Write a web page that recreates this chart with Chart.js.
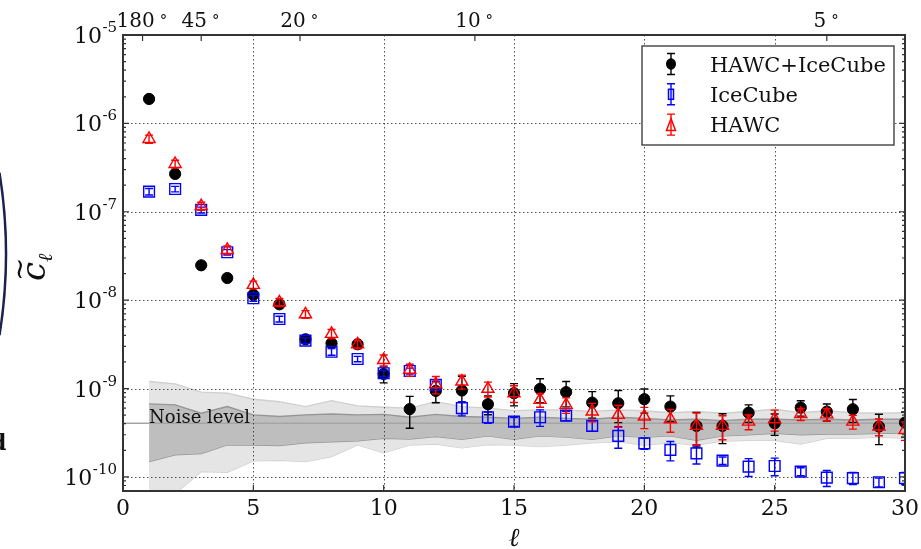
<!DOCTYPE html>
<html>
<head>
<meta charset="utf-8">
<script src="https://cdn.jsdelivr.net/npm/chart.js@4.4.1/dist/chart.umd.min.js"></script>
<style>
  body { margin: 0; background: #fff; }
  #wrap { width: 921px; height: 549px; }
</style>
</head>
<body>
<div id="wrap"><canvas id="cl" width="921" height="549"></canvas></div>
<script>
// multipole values
const ell = [1, 2, 3, 4, 5, 6, 7, 8, 9, 10, 11, 12, 13, 14, 15, 16, 17, 18, 19, 20, 21, 22, 23, 24, 25, 26, 27, 28, 29, 30];

// HAWC+IceCube (black dots)
const hawcIce = [1.89e-6, 2.68e-7, 2.48e-8, 1.78e-8, 1.15e-8, 8.97e-9, 3.61e-9, 3.25e-9, 3.17e-9, 1.46e-9,
                 5.86e-10, 9.4e-10, 9.5e-10, 6.65e-10, 8.86e-10, 9.9e-10, 9.1e-10, 6.93e-10, 6.82e-10, 7.57e-10,
                 6.25e-10, 3.78e-10, 3.78e-10, 5.33e-10, 4.05e-10, 6.08e-10, 5.48e-10, 5.83e-10, 3.72e-10, 4.12e-10];
const hawcIceErr = [3e-10, 3e-10, 3e-10, 3e-10, 3e-10, 3e-10, 3e-10, 3e-10, 3e-10, 3e-10,
                    2.3e-10, 2.5e-10, 4.3e-10, 1.6e-10, 2.5e-10, 3e-10, 2.9e-10, 2.3e-10, 2.7e-10, 2.3e-10,
                    2e-10, 1.6e-10, 1.4e-10, 1.2e-10, 1.1e-10, 1.2e-10, 1.2e-10, 1.7e-10, 1.4e-10, 1.3e-10];

// IceCube (blue squares)
const iceCube = [1.69e-7, 1.81e-7, 1.05e-7, 3.48e-8, 1.05e-8, 6.12e-9, 3.48e-9, 2.61e-9, 2.16e-9, 1.49e-9,
                 1.58e-9, 1.1e-9, 6.0e-10, 4.73e-10, 4.22e-10, 4.73e-10, 4.93e-10, 3.78e-10, 2.91e-10, 2.4e-10,
                 2.02e-10, 1.85e-10, 1.53e-10, 1.31e-10, 1.33e-10, 1.15e-10, 9.8e-11, 9.7e-11, 8.7e-11, 9.7e-11];
const iceCubeErr = [1.4e-8, 1.3e-8, 8e-9, 2.5e-9, 8e-10, 4.5e-10, 2.5e-10, 2.3e-10, 1.5e-10, 1.2e-10,
                    1.2e-10, 1.1e-10, 1.1e-10, 7e-11, 5e-11, 1e-10, 6e-11, 5e-11, 8e-11, 3.5e-11,
                    5e-11, 4.5e-11, 1.5e-11, 3e-11, 3e-11, 1.2e-11, 2e-11, 1.5e-11, 1e-11, 1.5e-11];

// HAWC (red triangles)
const hawc = [6.67e-7, 3.47e-7, 1.16e-7, 3.7e-8, 1.49e-8, 9.46e-9, 6.92e-9, 4.15e-9, 3.16e-9, 2.1e-9,
              1.63e-9, 1.12e-9, 1.2e-9, 9.93e-10, 8.86e-10, 7.44e-10, 6.54e-10, 5.5e-10, 5.04e-10, 4.82e-10,
              4.5e-10, 3.78e-10, 3.78e-10, 4.22e-10, 4.5e-10, 5.15e-10, 5.1e-10, 4.22e-10, 3.72e-10, 3.39e-10];
const hawcErr = [7e-8, 3.5e-8, 1.2e-8, 4e-9, 1.5e-9, 1e-9, 7e-10, 5e-10, 3.5e-10, 3e-10,
                 2.5e-10, 2.5e-10, 2.2e-10, 1.9e-10, 1.9e-10, 1.3e-10, 1.3e-10, 1.3e-10, 1.4e-10, 1.3e-10,
                 1.3e-10, 1.5e-10, 1.15e-10, 8e-11, 1.2e-10, 8e-11, 8e-11, 7.5e-11, 8e-11, 8e-11];

// noise bands (1 and 2 sigma)
const noiseUp2 = [1.2e-9, 1.13e-9, 9.1e-10, 8.86e-10, 7.57e-10, 7.1e-10, 6.25e-10, 7.3e-10, 6.37e-10, 6.15e-10,
                  6.0e-10, 7.1e-10, 6.25e-10, 6.0e-10, 5.62e-10, 5.72e-10, 5.72e-10, 5.5e-10, 5.72e-10, 5.6e-10,
                  5.33e-10, 5.5e-10, 5.25e-10, 5.5e-10, 5.83e-10, 5.33e-10, 5.6e-10, 5.33e-10, 5.25e-10, 5.33e-10];
const noiseUp1 = [6.7e-10, 6.54e-10, 5.25e-10, 6.25e-10, 5.04e-10, 4.82e-10, 5.04e-10, 5.15e-10, 5.04e-10, 5.1e-10,
                  4.73e-10, 5.1e-10, 4.82e-10, 4.73e-10, 4.6e-10, 4.73e-10, 4.6e-10, 4.5e-10, 4.73e-10, 4.6e-10,
                  4.4e-10, 4.5e-10, 4.33e-10, 4.5e-10, 4.5e-10, 4.4e-10, 4.5e-10, 4.4e-10, 4.5e-10, 4.5e-10];
const noiseLo1 = [1.49e-10, 1.78e-10, 1.84e-10, 2.3e-10, 2.3e-10, 2.27e-10, 2.44e-10, 2.5e-10, 2.56e-10, 2.73e-10,
                  2.69e-10, 2.86e-10, 2.66e-10, 2.91e-10, 2.66e-10, 2.91e-10, 2.82e-10, 2.66e-10, 2.91e-10, 2.82e-10,
                  2.91e-10, 2.6e-10, 2.91e-10, 3.0e-10, 3.12e-10, 3.0e-10, 3.05e-10, 3.05e-10, 3.12e-10, 3.12e-10];
const noiseLo2 = [3e-11, 6.5e-11, 1.15e-10, 1.13e-10, 1.52e-10, 1.54e-10, 1.49e-10, 1.7e-10, 2.3e-10, 1.88e-10,
                  2.3e-10, 2.36e-10, 2.13e-10, 2.33e-10, 2.3e-10, 2.2e-10, 2.3e-10, 2.43e-10, 2.49e-10, 2.3e-10,
                  2.43e-10, 2.3e-10, 2.55e-10, 2.6e-10, 2.6e-10, 2.36e-10, 2.73e-10, 2.73e-10, 2.82e-10, 2.73e-10];
const noiseLevel = 4.05e-10;

// axes
const xTicks = [0, 5, 10, 15, 20, 25, 30];
const yDecades = [-10, -9, -8, -7, -6, -5];
const topTickEll = [0.75, 3, 6.79, 13.5, 27];
const topTickLabels = ['180', '45', '20', '10', '5'];
const yMin = 6.93e-11, yMax = 1e-5;

const serif = '"DejaVu Serif", "Liberation Serif", serif';
const gridColor = 'rgba(40,40,40,0.8)';
const frameColor = '#333';

function pts(vals, errs) {
    return vals.map((v, i) => ({ x: ell[i], y: v, err: errs ? errs[i] : 0 }));
}
function line(vals) {
    return vals.map((v, i) => ({ x: ell[i], y: v }));
}

// error bars, drawn just before the markers of each dataset
const errorBars = {
    id: 'errorBars',
    beforeDatasetDraw(chart, args) {
        const ds = chart.data.datasets[args.index];
        if (!ds.errColor) return;
        const { ctx, chartArea: a } = chart;
        const xs = chart.scales.x, ys = chart.scales.y;
        ctx.save();
        ctx.beginPath();
        ctx.rect(a.left, a.top, a.right - a.left, a.bottom - a.top);
        ctx.clip();
        ctx.strokeStyle = ds.errColor;
        ctx.lineWidth = 1.4;
        ds.data.forEach(p => {
            const px = xs.getPixelForValue(p.x);
            const top = ys.getPixelForValue(p.y + p.err);
            const bot = ys.getPixelForValue(Math.max(p.y - p.err, 1e-13));
            ctx.beginPath();
            ctx.moveTo(px, top); ctx.lineTo(px, bot);
            ctx.moveTo(px - 4, top); ctx.lineTo(px + 4, top);
            ctx.moveTo(px - 4, bot); ctx.lineTo(px + 4, bot);
            ctx.stroke();
        });
        ctx.restore();
    }
};

// grid, frame, ticks, labels and legend
const decorations = {
    id: 'decorations',
    afterDatasetsDraw(chart) {
        const { ctx, chartArea: a } = chart;
        const xs = chart.scales.x, ys = chart.scales.y;

        // dotted grid
        ctx.save();
        ctx.strokeStyle = gridColor;
        ctx.lineWidth = 1;
        ctx.setLineDash([1.5, 2.5]);
        xTicks.forEach(t => {
            if (t <= 0 || t >= 30) return;
            const px = Math.round(xs.getPixelForValue(t)) + 0.5;
            ctx.beginPath(); ctx.moveTo(px, a.top); ctx.lineTo(px, a.bottom); ctx.stroke();
        });
        yDecades.forEach(d => {
            const py = Math.round(ys.getPixelForValue(Math.pow(10, d))) + 0.5;
            if (py <= a.top + 1) return;
            ctx.beginPath(); ctx.moveTo(a.left, py); ctx.lineTo(a.right, py); ctx.stroke();
        });
        ctx.restore();

        // "Noise level" text
        ctx.save();
        ctx.fillStyle = '#111';
        ctx.font = '18px ' + serif;
        ctx.textAlign = 'left';
        ctx.textBaseline = 'alphabetic';
        ctx.fillText('Noise level', xs.getPixelForValue(1), ys.getPixelForValue(noiseLevel));
        ctx.restore();

        // ticks (inward)
        ctx.save();
        ctx.strokeStyle = frameColor;
        ctx.lineWidth = 1.2;
        ctx.beginPath();
        yDecades.forEach(d => {
            const py = ys.getPixelForValue(Math.pow(10, d));
            ctx.moveTo(a.left, py); ctx.lineTo(a.left + 6, py);
            ctx.moveTo(a.right, py); ctx.lineTo(a.right - 6, py);
        });
        for (let d = -11; d <= -6; d++) {
            for (let k = 2; k <= 9; k++) {
                const v = k * Math.pow(10, d);
                if (v < yMin || v > yMax) continue;
                const py = ys.getPixelForValue(v);
                ctx.moveTo(a.left, py); ctx.lineTo(a.left + 3, py);
                ctx.moveTo(a.right, py); ctx.lineTo(a.right - 3, py);
            }
        }
        xTicks.forEach(t => {
            const px = xs.getPixelForValue(t);
            ctx.moveTo(px, a.bottom); ctx.lineTo(px, a.bottom - 6);
        });
        topTickEll.forEach(t => {
            const px = xs.getPixelForValue(t);
            ctx.moveTo(px, a.top); ctx.lineTo(px, a.top + 6);
        });
        ctx.stroke();
        ctx.restore();

        // frame
        ctx.save();
        ctx.strokeStyle = frameColor;
        ctx.lineWidth = 2;
        ctx.strokeRect(a.left, a.top, a.right - a.left, a.bottom - a.top);
        ctx.restore();
    },
    afterDraw(chart) {
        const { ctx, chartArea: a } = chart;
        const xs = chart.scales.x, ys = chart.scales.y;
        ctx.save();
        ctx.fillStyle = '#111';

        // y tick labels 10^n
        ctx.textBaseline = 'alphabetic';
        yDecades.forEach(d => {
            const py = ys.getPixelForValue(Math.pow(10, d));
            const sup = String(d);
            ctx.font = '15px ' + serif;
            const sw = ctx.measureText(sup).width;
            ctx.textAlign = 'left';
            ctx.fillText(sup, 117 - sw, py - 3);
            ctx.font = '22px ' + serif;
            ctx.textAlign = 'right';
            ctx.fillText('10', 117 - sw - 0.5, py + 8);
        });

        // x tick labels
        ctx.font = '22px ' + serif;
        ctx.textAlign = 'center';
        xTicks.forEach(t => {
            ctx.fillText(String(t), xs.getPixelForValue(t), a.bottom + 24);
        });

        // top angle labels
        topTickEll.forEach((t, i) => {
            const px = xs.getPixelForValue(t) - 3;
            ctx.font = '20px ' + serif;
            const w = ctx.measureText(topTickLabels[i]).width;
            ctx.textAlign = 'left';
            ctx.fillText(topTickLabels[i], px - w / 2 - 4, 27);
            ctx.font = '15px ' + serif;
            ctx.fillText('\u00B0', px + w / 2 + 1, 25);
        });

        // x axis title
        ctx.font = 'italic 26px ' + serif;
        ctx.textAlign = 'center';
        ctx.fillText('\u2113', (a.left + a.right) / 2, 546);

        // y axis title (c tilde, subscript ell)
        ctx.save();
        ctx.translate(45, 281);
        ctx.rotate(-Math.PI / 2);
        ctx.textAlign = 'left';
        ctx.font = 'italic 34px ' + serif;
        ctx.fillText('c', 0, 0);
        ctx.font = '28px ' + serif;
        ctx.fillText('~', 0, -16);
        ctx.font = 'italic 20px ' + serif;
        ctx.fillText('\u2113', 19, 7);
        ctx.restore();

        // legend
        const lx = 642, ly = 46, lw = 252, lh = 99;
        ctx.fillStyle = '#fff';
        ctx.fillRect(lx, ly, lw, lh);
        ctx.strokeStyle = frameColor;
        ctx.lineWidth = 1.3;
        ctx.strokeRect(lx, ly, lw, lh);
        const rows = chart.data.datasets.filter(ds => ds.errColor);
        rows.sort((p, q) => p.legendRow - q.legendRow);
        rows.forEach((ds, i) => {
            const cy = 64 + i * 30.3;
            const mx = 671;
            ctx.strokeStyle = ds.errColor;
            ctx.lineWidth = 1.4;
            ctx.beginPath();
            ctx.moveTo(mx, cy - 10.5); ctx.lineTo(mx, cy + 10.5);
            ctx.moveTo(mx - 4, cy - 10.5); ctx.lineTo(mx + 4, cy - 10.5);
            ctx.moveTo(mx - 4, cy + 10.5); ctx.lineTo(mx + 4, cy + 10.5);
            ctx.stroke();
            ctx.strokeStyle = ds.borderColor;
            ctx.lineWidth = 1.5;
            if (ds.pointStyle === 'circle') {
                ctx.fillStyle = ds.backgroundColor;
                ctx.beginPath(); ctx.ellipse(mx, cy, 5, 5.8, 0, 0, Math.PI * 2); ctx.fill();
            } else if (ds.pointStyle === 'rect') {
                ctx.strokeRect(mx - 2.5, cy - 5, 5, 10);
            } else {
                ctx.beginPath();
                ctx.moveTo(mx, cy - 6); ctx.lineTo(mx + 4.5, cy + 6); ctx.lineTo(mx - 4.5, cy + 6); ctx.closePath();
                ctx.stroke();
            }
            ctx.fillStyle = '#111';
            ctx.font = '21px ' + serif;
            ctx.textAlign = 'left';
            ctx.fillText(ds.label, 710, cy + 7.5);
        });

        // fragments of the neighbouring figure at the left edge
        ctx.strokeStyle = '#1c2150';
        ctx.lineWidth = 2.5;
        ctx.beginPath();
        ctx.arc(-504, 254, 510, -0.16, 0.16);
        ctx.stroke();
        ctx.fillStyle = '#111';
        ctx.font = 'bold 22px ' + serif;
        ctx.textAlign = 'left';
        ctx.fillText('d', -9, 450);
        ctx.restore();
    }
};

const ctx = document.getElementById('cl').getContext('2d');
const chart = new Chart(ctx, {
    type: 'scatter',
    data: {
        datasets: [
            {
                label: 'HAWC',
                data: pts(hawc, hawcErr),
                pointStyle: 'triangle',
                pointRadius: 7,
                backgroundColor: 'rgba(255,255,255,0)',
                borderColor: 'rgb(255,0,0)',
                borderWidth: 1.4,
                errColor: 'rgb(255,0,0)',
                legendRow: 2,
                order: 1,
                clip: 0
            },
            {
                label: 'IceCube',
                data: pts(iceCube, iceCubeErr),
                pointStyle: 'rect',
                pointRadius: 7.6,
                backgroundColor: 'rgba(255,255,255,0)',
                borderColor: 'rgb(0,0,255)',
                borderWidth: 1.4,
                errColor: 'rgb(0,0,255)',
                legendRow: 1,
                order: 2,
                clip: 0
            },
            {
                label: 'HAWC+IceCube',
                data: pts(hawcIce, hawcIceErr),
                pointStyle: 'circle',
                pointRadius: 5.6,
                backgroundColor: '#000',
                borderColor: '#000',
                borderWidth: 1,
                errColor: '#000',
                legendRow: 0,
                order: 3,
                clip: 0
            },
            {
                type: 'line',
                label: 'noise',
                data: [{ x: 0, y: noiseLevel }, { x: 30, y: noiseLevel }],
                borderColor: 'rgb(165,165,165)',
                borderWidth: 1.6,
                pointRadius: 0,
                fill: false,
                order: 4
            },
            {
                type: 'line',
                label: 'up1',
                data: line(noiseUp1),
                borderColor: 'rgb(150,150,150)',
                backgroundColor: 'rgb(190,190,190)',
                borderWidth: 1.4,
                pointRadius: 0,
                tension: 0,
                fill: '+1',
                order: 5
            },
            {
                type: 'line',
                label: 'lo1',
                data: line(noiseLo1),
                borderColor: 'rgb(150,150,150)',
                borderWidth: 1.4,
                pointRadius: 0,
                tension: 0,
                fill: false,
                order: 5
            },
            {
                type: 'line',
                label: 'up2',
                data: line(noiseUp2),
                borderColor: 'rgb(208,208,208)',
                backgroundColor: 'rgb(229,229,229)',
                borderWidth: 1.4,
                pointRadius: 0,
                tension: 0,
                fill: '+1',
                order: 6
            },
            {
                type: 'line',
                label: 'lo2',
                data: line(noiseLo2),
                borderColor: 'rgb(208,208,208)',
                borderWidth: 1.4,
                pointRadius: 0,
                tension: 0,
                fill: false,
                order: 6
            }
        ]
    },
    options: {
        responsive: false,
        animation: false,
        layout: { padding: { left: 123, top: 35, right: 16, bottom: 58 } },
        plugins: {
            legend: { display: false },
            tooltip: { enabled: false },
            filler: { propagate: false }
        },
        scales: {
            x: { type: 'linear', display: false, min: 0, max: 30 },
            y: { type: 'logarithmic', display: false, min: yMin, max: yMax }
        }
    },
    plugins: [errorBars, decorations]
});
</script>
</body>
</html>
